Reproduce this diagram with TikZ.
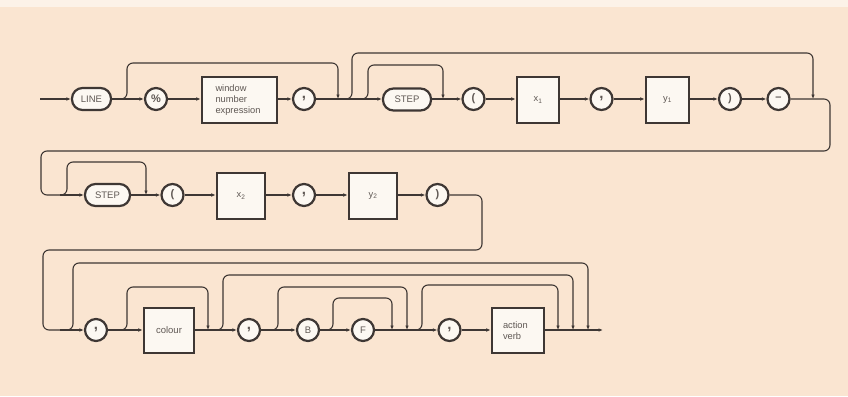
\documentclass[tikz,border=0pt]{standalone}
\usepackage{fontspec}
\setmainfont{Liberation Sans}
\usetikzlibrary{arrows.meta}
\definecolor{bg}{RGB}{250,229,209}
\definecolor{bgtop}{RGB}{252,242,232}
\definecolor{ink}{RGB}{62,55,52}
\definecolor{txt}{RGB}{95,88,84}
\definecolor{nfill}{RGB}{252,248,242}
\tikzset{
  line/.style={draw=ink, line width=1.1pt},
  arr/.style={line, -{Latex[length=4.5pt,width=3.6pt]}},
  loopline/.style={arr, rounded corners=6pt},
  term/.style={draw=ink, line width=2.2pt, fill=nfill, rounded corners=10.5pt,
     minimum height=22pt, inner sep=0pt, text=txt, font=\fontsize{9.5}{11}\selectfont},
  circ/.style={circle, draw=ink, line width=2.2pt, fill=nfill, minimum size=22pt,
     inner sep=0pt, text=txt, font=\fontsize{11}{12}\selectfont\bfseries},
  commacirc/.style={circ, font=\fontsize{15}{15}\selectfont\bfseries},
  boxnode/.style={rectangle, draw=ink, line width=2.6pt, fill=nfill, minimum height=46pt,
     inner sep=0pt, text=txt, font=\fontsize{9.3}{11}\selectfont, align=left},
}
\newcommand{\cm}{\raisebox{2.5pt}{,}}
\begin{document}
\begin{tikzpicture}[x=1pt,y=-1pt]
\fill[bg] (0,0) rectangle (848,396);
\fill[bgtop] (0,0) rectangle (848,7);
\useasboundingbox (0,0) rectangle (848,396);

% ---------- Row 1 ----------
\coordinate (s1) at (40,99);
\node[term, minimum width=39pt] (LINE) at (91.5,99) {LINE};
\node[circ] (pct) at (156,99) {\%};
\node[boxnode, minimum width=75pt, text width=48pt] (win) at (239.5,100) {window\\number\\expression};
\node[commacirc] (c1) at (304,99) {\cm};
\node[term, minimum width=48pt] (step1) at (407,99.5) {STEP};
\node[circ] (lp1) at (473.5,99) {(};
\node[boxnode, minimum width=42pt] (x1) at (538,100) {x\textsubscript{1}};
\node[commacirc] (c2) at (601.5,99) {\cm};
\node[boxnode, minimum width=43pt] (y1) at (667.5,100) {y\textsubscript{1}};
\node[circ] (rp1) at (730,99) {)};
\node[circ] (mn) at (778.5,99) {--};

\draw[arr] (s1) -- (LINE);
\draw[arr] (LINE) -- (pct);
\draw[arr] (pct) -- (win.west |- pct);
\draw[arr] (win.east |- c1) -- (c1);
\draw[arr] (c1) -- (step1.west |- c1);
\draw[arr] (step1.east |- lp1) -- (lp1);
\draw[arr] (lp1) -- (x1.west |- lp1);
\draw[arr] (x1.east |- c2) -- (c2);
\draw[arr] (c2) -- (y1.west |- c2);
\draw[arr] (y1.east |- rp1) -- (rp1);
\draw[arr] (rp1) -- (mn);

\coordinate (a1) at (121,99); \coordinate (a2) at (338,99);
\draw[loopline] (a1) -- (127,99) -- (127,63) -- (338,63) -- (a2);
\coordinate (b1) at (346,99); \coordinate (b2) at (813,99);
\draw[loopline] (b1) -- (352,99) -- (352,53) -- (813,53) -- (b2);
\coordinate (d1) at (362,99); \coordinate (d2) at (443,99);
\draw[loopline] (d1) -- (368,99) -- (368,65) -- (443,65) -- (d2);

% ---------- Row 2 ----------
\node[term, minimum width=45pt] (step2) at (107.5,195) {STEP};
\node[circ] (lp2) at (172.5,195) {(};
\node[boxnode, minimum width=48pt] (x2) at (241,196) {x\textsubscript{2}};
\node[commacirc] (c3) at (304,195) {\cm};
\node[boxnode, minimum width=48pt] (y2) at (373,196) {y\textsubscript{2}};
\node[circ] (rp2) at (437.5,195) {)};

\draw[line, rounded corners=6pt] (mn) -- (830,99) -- (830,151) -- (41,151) -- (41,195) -- (60,195);
\draw[arr] (60,195) -- (step2);
\draw[arr] (step2) -- (lp2);
\draw[arr] (lp2) -- (x2.west |- lp2);
\draw[arr] (x2.east |- c3) -- (c3);
\draw[arr] (c3) -- (y2.west |- c3);
\draw[arr] (y2.east |- rp2) -- (rp2);

\coordinate (e1) at (61,195); \coordinate (e2) at (146,195);
\draw[loopline] (e1) -- (67,195) -- (67,162) -- (146,162) -- (e2);

% ---------- Row 3 ----------
\node[commacirc] (c4) at (96,330) {\cm};
\node[boxnode, minimum width=50pt, minimum height=45pt, font=\fontsize{9.5}{11}\selectfont] (col) at (169,330.5) {colour};
\node[commacirc] (c5) at (249,330) {\cm};
\node[circ, font=\fontsize{9.5}{11}\selectfont] (B) at (308,330) {B};
\node[circ, font=\fontsize{9.5}{11}\selectfont] (F) at (363,330) {F};
\node[commacirc] (c6) at (449.5,330) {\cm};
\node[boxnode, minimum width=52pt, minimum height=45pt, text width=30pt] (av) at (518,330.5) {action\\verb};
\coordinate (fin) at (603,330);

\draw[line, rounded corners=6pt] (rp2) -- (482,195) -- (482,250) -- (43,250) -- (43,330) -- (60,330);
\draw[arr] (60,330) -- (c4);
\draw[arr] (c4) -- (col.west |- c4);
\draw[arr] (col.east |- c5) -- (c5);
\draw[arr] (c5) -- (B);
\draw[arr] (B) -- (F);
\draw[arr] (F) -- (c6);
\draw[arr] (c6) -- (av.west |- c6);
\draw[arr] (av.east |- fin) -- (fin);

\coordinate (f1) at (66,330); \coordinate (f2) at (588,330);
\draw[loopline] (f1) -- (73,330) -- (73,263) -- (588,263) -- (f2);
\coordinate (g1) at (121,330); \coordinate (g2) at (208,330);
\draw[loopline] (g1) -- (127,330) -- (127,287) -- (208,287) -- (g2);
\coordinate (h1) at (216,330); \coordinate (h2) at (573,330);
\draw[loopline] (h1) -- (223,330) -- (223,275) -- (573,275) -- (h2);
\coordinate (i1) at (272,330); \coordinate (i2) at (407,330);
\draw[loopline] (i1) -- (278,330) -- (278,287) -- (407,287) -- (i2);
\coordinate (k1) at (327,330); \coordinate (k2) at (392,330);
\draw[loopline] (k1) -- (333,330) -- (333,298) -- (392,298) -- (k2);
\coordinate (m1) at (415,330); \coordinate (m2) at (558,330);
\draw[loopline] (m1) -- (422,330) -- (422,285) -- (558,285) -- (m2);
\end{tikzpicture}
\end{document}
